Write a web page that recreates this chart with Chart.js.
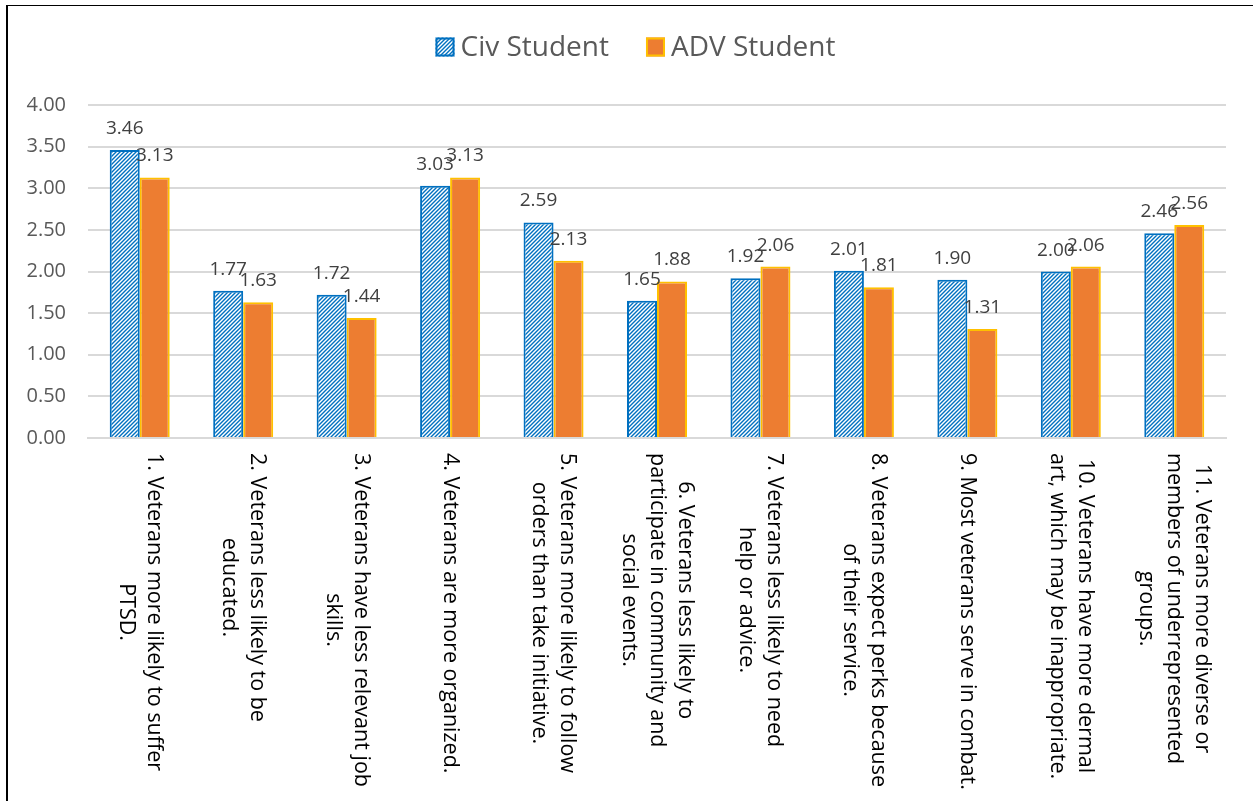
<!DOCTYPE html>
<html lang="en">
<head>
<meta charset="UTF-8">
<title>Civ vs ADV Student perceptions of veterans</title>
<script src="https://cdn.jsdelivr.net/npm/chart.js@4.4.0/dist/chart.umd.min.js"></script>
<style>
  html, body { margin: 0; padding: 0; background: #fff; }
  body { width: 1253px; height: 801px; overflow: hidden; position: relative; }
  .frame { position: absolute; left: 6px; top: 5px; right: 0; bottom: -10px;
           border-left: 2px solid #000; border-top: 1px solid #000; }
  #chart { position: absolute; left: 0; top: 0; }
</style>
</head>
<body>
<div class="frame"></div>
<canvas id="chart" width="1253" height="801"></canvas>

<script>
// statements, already broken into the lines they are printed on
const categories = [
    ['1. Veterans more likely to suffer', 'PTSD.'],
    ['2. Veterans less likely to be', 'educated.'],
    ['3. Veterans have less relevant job', 'skills.'],
    ['4. Veterans are more organized.'],
    ['5. Veterans more likely to follow', 'orders than take initiative.'],
    ['6. Veterans less likely to', 'participate in community and', 'social events.'],
    ['7. Veterans less likely to need', 'help or advice.'],
    ['8. Veterans expect perks because', 'of their service.'],
    ['9. Most veterans serve in combat.'],
    ['10. Veterans have more dermal', 'art, which may be inappropriate.'],
    ['11. Veterans more diverse or', 'members of underrepresented', 'groups.']
];
const civStudent = [3.46, 1.77, 1.72, 3.03, 2.59, 1.65, 1.92, 2.01, 1.90, 2.00, 2.46];
const advStudent = [3.13, 1.63, 1.44, 3.13, 2.13, 1.88, 2.06, 1.81, 1.31, 2.06, 2.56];
const yMin = 0;
const yMax = 4;
const yStep = 0.5;

const FONT = '"Open Sans", "Noto Sans", sans-serif';

const canvas = document.getElementById('chart');
const ctx = canvas.getContext('2d');

// blue "/" stripes on white
function hatch(color) {
    const tile = document.createElement('canvas');
    tile.width = 4;
    tile.height = 4;
    const g = tile.getContext('2d');
    g.fillStyle = '#fff';
    g.fillRect(0, 0, 4, 4);
    g.strokeStyle = color;
    g.lineWidth = 1.4;
    g.beginPath();
    g.moveTo(0, 4); g.lineTo(4, 0);
    g.moveTo(-1, 1); g.lineTo(1, -1);
    g.moveTo(3, 5); g.lineTo(5, 3);
    g.stroke();
    return ctx.createPattern(tile, 'repeat');
}

// legend row above the plot: square swatch, then the series name
const topLegend = {
    id: 'topLegend',
    afterDraw(chart) {
        const c = chart.ctx;
        const box = 19, gap = 6, spacing = 37;
        c.save();
        c.font = '28px ' + FONT;
        c.textBaseline = 'middle';
        c.textAlign = 'left';
        const items = chart.data.datasets.map(ds => ({ ds, w: c.measureText(ds.label).width }));
        const total = items.reduce((s, it) => s + box + gap + it.w, 0) + spacing * (items.length - 1);
        let x = chart.width / 2 + 9 - total / 2;
        const cy = 47;
        items.forEach(({ ds, w }) => {
            c.fillStyle = ds.backgroundColor;
            c.fillRect(x, cy - box / 2, box, box);
            c.lineWidth = 2;
            c.strokeStyle = ds.borderColor;
            c.strokeRect(x + 1, cy - box / 2 + 1, box - 2, box - 2);
            c.fillStyle = '#595959';
            c.fillText(ds.label, x + box + gap, cy + 1);
            x += box + gap + w + spacing;
        });
        c.restore();
    }
};

// value printed above every bar
const valueLabels = {
    id: 'valueLabels',
    afterDatasetsDraw(chart) {
        const c = chart.ctx;
        c.save();
        c.font = '19px ' + FONT;
        c.fillStyle = '#404040';
        c.textAlign = 'center';
        c.textBaseline = 'alphabetic';
        chart.data.datasets.forEach((ds, i) => {
            chart.getDatasetMeta(i).data.forEach((bar, j) => {
                c.fillText(ds.data[j].toFixed(2), bar.x, bar.y - 16);
            });
        });
        c.restore();
    }
};

// category text turned 90deg clockwise, hanging under the axis
const categoryLabels = {
    id: 'categoryLabels',
    afterDraw(chart) {
        const c = chart.ctx;
        const xs = chart.scales.x;
        c.save();
        c.font = '21.5px ' + FONT;
        c.fillStyle = '#000';
        c.textAlign = 'center';
        c.textBaseline = 'middle';
        categories.forEach((lines, i) => {
            const w = Math.max(...lines.map(l => c.measureText(l).width));
            c.save();
            c.translate(xs.getPixelForValue(i), xs.top + 15 + w / 2);
            c.rotate(Math.PI / 2);
            lines.forEach((l, k) => c.fillText(l, 0, (k - (lines.length - 1) / 2) * 28));
            c.restore();
        });
        c.restore();
    }
};

new Chart(ctx, {
    type: 'bar',
    data: {
        labels: categories.map(l => l.join(' ')),
        datasets: [{
            label: 'Civ Student',
            data: civStudent,
            backgroundColor: hatch('#0070C0'),
            borderColor: '#0070C0',
            borderWidth: 2
        }, {
            label: 'ADV Student',
            data: advStudent,
            backgroundColor: '#ED7D31',
            borderColor: '#FFC000',
            borderWidth: 2
        }]
    },
    options: {
        responsive: false,
        animation: false,
        layout: { padding: { top: 105, right: 27, bottom: 0, left: 0 } },
        datasets: { bar: { categoryPercentage: 0.58, barPercentage: 1 } },
        plugins: {
            legend: { display: false },
            tooltip: { enabled: false }
        },
        scales: {
            x: {
                grid: { display: false },
                border: { color: '#d9d9d9', width: 2 },
                ticks: { display: false },
                afterFit(s) { s.height = 801 - 438; }
            },
            y: {
                min: yMin,
                max: yMax,
                ticks: {
                    stepSize: yStep,
                    callback: v => v.toFixed(2),
                    font: { family: FONT, size: 20 },
                    color: '#595959',
                    padding: 22
                },
                grid: { color: '#d9d9d9', lineWidth: 2, drawTicks: false },
                border: { display: false },
                afterFit(s) { s.width = 88; }
            }
        }
    },
    plugins: [valueLabels, categoryLabels, topLegend]
});
</script>
</body>
</html>
